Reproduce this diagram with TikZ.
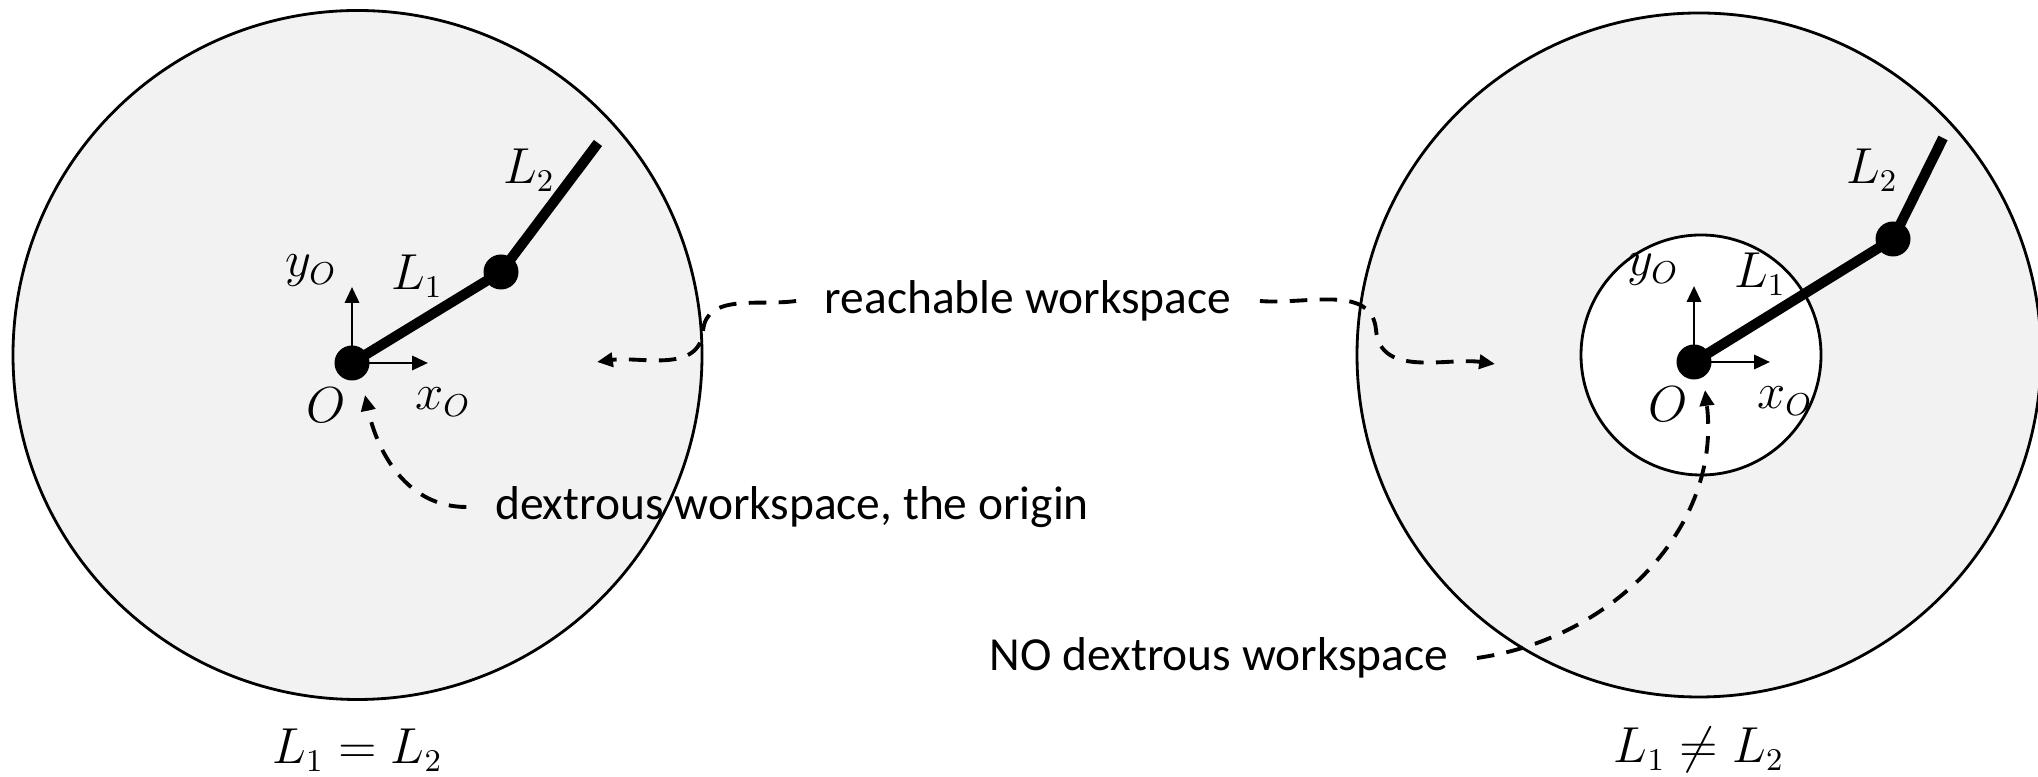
\documentclass[tikz,border=0pt]{standalone}
\usepackage[no-math]{fontspec}
\setmainfont{Carlito}
\usepackage{tikz}
\usetikzlibrary{arrows.meta}
\definecolor{wsgray}{HTML}{F2F2F2}

\begin{document}
\begin{tikzpicture}[>={Triangle[length=4.5pt,width=4pt]},
  region/.style={draw=black, line width=0.8pt, fill=wsgray},
  hole/.style={draw=black, line width=0.8pt, fill=white},
  link/.style={line width=2.9pt},
  joint/.style={circle, fill=black, inner sep=0pt, minimum size=0.35cm},
  axis/.style={->, line width=0.8pt},
  sym/.style={inner sep=0pt, font=\fontsize{13.5}{16}\selectfont},
  txt/.style={inner xsep=8pt, inner ysep=2pt, font=\fontsize{13.5}{16}\selectfont},
  pointer/.style={->, line width=1.1pt, dash pattern=on 5pt off 3.5pt}]
\useasboundingbox (0,0) rectangle (20.38,7.77);
% workspaces
\draw[region] (3.575,4.22) circle (3.445);
\draw[region] (16.99,4.22) circle (3.42);
\draw[hole] (17.01,4.22) circle (1.20);
% two-link arms
\foreach \s/\ox/\oy/\jx/\jy/\tx/\ty/\ax/\ay/\bx/\by in
  {1/3.52/4.14/5.01/5.05/5.98/6.34/4.17/5.01/5.29/6.07,
   2/16.94/4.15/18.93/5.38/19.43/6.39/17.60/5.03/18.72/6.07} {
  \coordinate (X\s) at (\ox+0.76,\oy);
  \coordinate (Y\s) at (\ox,\oy+0.76);
  \coordinate (T\s) at (\tx,\ty);
  \coordinate (B\s) at (\ox,\oy);
  \coordinate (E\s) at (\jx,\jy);
  \draw[axis] (B\s) -- (X\s);
  \draw[axis] (B\s) -- (Y\s);
  \draw[link] (B\s) -- (E\s) (E\s) -- (T\s);
  \node[joint] (O\s) at (B\s) {};
  \node[joint] (J\s) at (E\s) {};
  \node[sym] (lo\s) at (\ox-0.26,\oy-0.42) {$O$};
  \node[sym] (lx\s) at (\ox+0.91,\oy-0.39) {$x_O$};
  \node[sym] (ly\s) at (\ox-0.41,\oy+0.92) {$y_O$};
  \node[sym] (la\s) at (\ax,\ay) {$L_1$};
  \node[sym] (lb\s) at (\bx,\by) {$L_2$};
}
\node[sym] (eq) at (3.575,0.27) {$L_1 = L_2$};
\node[sym] (neq) at (16.99,0.27) {$L_1 \neq L_2$};
% annotations
\node[txt] (reach) at (10.28,4.76) {reachable workspace};
\node[txt] (dex) at (7.92,2.70) {dextrous workspace, the origin};
\node[txt] (nodex) at (12.19,1.19) {NO dextrous workspace};
\coordinate (RL) at (5.97,4.15);
\coordinate (RR) at (14.95,4.13);
\coordinate (DL) at (3.65,3.82);
\coordinate (DR) at (17.05,3.87);
\draw[pointer] (reach.west) to[out=188,in=85] (7.03,4.46) to[out=-95,in=8] (RL);
\draw[pointer] (reach.east) to[out=-5,in=95] (13.76,4.47) to[out=-85,in=172] (RR);
\draw[pointer] (dex.west) to[out=180,in=-78] (DL);
\draw[pointer] (nodex.east) to[out=8,in=-83] (DR);
\end{tikzpicture}
\end{document}
